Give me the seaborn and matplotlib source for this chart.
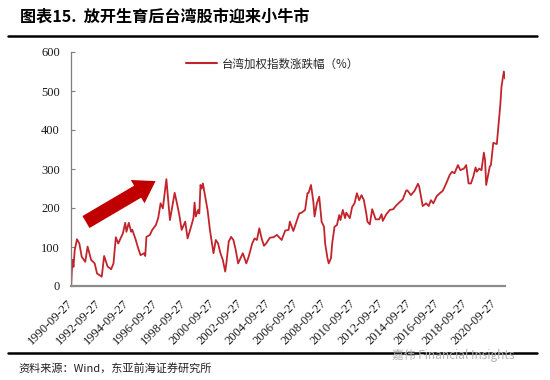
import matplotlib
matplotlib.use("Agg")
import matplotlib.pyplot as plt
import matplotlib.dates as mdates
from matplotlib.patches import FancyArrowPatch
from matplotlib.lines import Line2D
import pandas as pd
import seaborn as sns

# 台湾加权指数累计涨跌幅（%），自 1990-09-27 起
months = [
    "1990-10", "1990-11", "1990-12", "1991-01", "1991-03", "1991-05", "1991-07", "1991-10",
    "1991-12", "1992-03", "1992-06", "1992-08", "1992-12", "1993-02", "1993-05", "1993-08",
    "1993-10", "1993-12", "1994-02", "1994-04", "1994-06", "1994-08", "1994-09", "1994-11",
    "1995-01", "1995-02", "1995-05", "1995-07", "1995-09", "1995-12", "1996-01", "1996-02",
    "1996-05", "1996-07", "1996-10", "1996-12", "1997-02", "1997-04", "1997-07", "1997-08",
    "1997-10", "1997-12", "1998-02", "1998-04", "1998-06", "1998-08", "1998-11", "1999-01",
    "1999-04", "1999-06", "1999-07", "1999-08", "1999-10", "1999-11", "1999-12", "2000-01",
    "2000-02", "2000-04", "2000-06", "2000-08", "2000-11", "2001-01", "2001-03", "2001-05",
    "2001-07", "2001-09", "2001-10", "2001-12", "2002-02", "2002-04", "2002-06", "2002-08",
    "2002-10", "2002-12", "2003-03", "2003-05", "2003-08", "2003-10", "2003-12", "2004-02",
    "2004-04", "2004-06", "2004-08", "2004-11", "2005-02", "2005-05", "2005-09", "2005-12",
    "2006-03", "2006-04", "2006-07", "2006-12", "2007-02", "2007-05", "2007-07", "2007-08",
    "2007-10", "2007-12", "2008-01", "2008-03", "2008-05", "2008-07", "2008-09", "2008-10",
    "2008-12", "2009-01", "2009-03", "2009-04", "2009-06", "2009-08", "2009-10", "2009-11",
    "2010-01", "2010-03", "2010-04", "2010-07", "2010-09", "2010-11", "2011-01", "2011-03",
    "2011-05", "2011-07", "2011-09", "2011-10", "2011-12", "2012-02", "2012-05", "2012-08",
    "2012-10", "2012-11", "2013-02", "2013-05", "2013-08", "2013-10", "2014-01", "2014-04",
    "2014-07", "2014-08", "2014-11", "2015-02", "2015-05", "2015-06", "2015-09", "2015-12",
    "2016-02", "2016-04", "2016-06", "2016-09", "2016-12", "2017-02", "2017-05", "2017-08",
    "2017-10", "2017-12", "2018-03", "2018-05", "2018-08", "2018-10", "2018-12", "2019-02",
    "2019-04", "2019-06", "2019-07", "2019-09", "2019-11", "2020-01", "2020-02", "2020-03",
    "2020-06", "2020-07", "2020-09", "2020-12", "2021-02", "2021-03", "2021-04", "2021-06",
    "2021-07",
]
values = [
    0, 67, 49, 92, 120, 109, 75, 62,
    101, 67, 58, 32, 24, 77, 50, 43,
    58, 125, 109, 122, 135, 162, 139, 162,
    139, 144, 118, 97, 79, 84, 77, 126,
    131, 144, 156, 174, 212, 199, 274, 238,
    169, 203, 239, 212, 182, 144, 165, 122,
    152, 174, 214, 178, 195, 186, 259, 250,
    263, 229, 195, 144, 84, 118, 109, 84,
    67, 37, 58, 114, 126, 118, 92, 58,
    71, 84, 58, 75, 109, 122, 118, 148,
    122, 103, 110, 124, 125, 131, 118, 142,
    144, 165, 141, 186, 188, 195, 238, 239,
    259, 216, 178, 212, 229, 165, 152, 109,
    71, 58, 71, 109, 152, 156, 182, 169,
    195, 174, 188, 174, 203, 212, 238, 220,
    233, 220, 186, 165, 158, 197, 171, 171,
    184, 167, 184, 195, 197, 205, 214, 222,
    245, 245, 233, 244, 262, 255, 205, 212,
    205, 220, 212, 231, 239, 244, 263, 285,
    293, 289, 310, 297, 301, 310, 263, 263,
    280, 304, 293, 301, 297, 342, 323, 259,
    306, 310, 367, 364, 434, 464, 511, 550,
    532,
]
tick_labels = [f"{y}-09-27" for y in range(1990, 2021, 2)]
series_label = "台湾加权指数涨跌幅（%）"
title = "图表15.  放开生育后台湾股市迎来小牛市"
source = "资料来源：Wind，东亚前海证券研究所"
watermark = "嘉伟 Financial Insights"

RED = "#C3242C"
W, H = 550, 380

df = pd.DataFrame({"date": pd.to_datetime(months, format="%Y-%m"), "value": values})

sns.set_theme(style="white")
cjk = ["Noto Sans CJK SC", "DejaVu Sans"]
serif = ["Liberation Serif", "DejaVu Serif"]
plt.rcParams["font.family"] = cjk

fig = plt.figure(figsize=(W / 100, H / 100), dpi=100)
ax = fig.add_axes([71 / W, 1 - 286 / H, (505 - 71) / W, (286 - 52) / H])
sns.lineplot(data=df, x="date", y="value", ax=ax, color=RED, linewidth=1.3)

ax.set_xlim(pd.Timestamp("1990-09-27"), df["date"].iloc[-1])
ax.set_ylim(0, 600)
ax.set_yticks(range(0, 601, 100))
ax.set_xticks(pd.to_datetime(tick_labels))
ax.set_xticklabels(tick_labels, rotation=45, ha="right", va="center",
                   rotation_mode="anchor", family=serif, fontsize=9, color="#1a1a1a")
for lab in ax.get_yticklabels():
    lab.set_family(serif)
    lab.set_fontsize(9)
    lab.set_color("#1a1a1a")
ax.set_xlabel("")
ax.set_ylabel("")
ax.tick_params(axis="y", direction="in", length=3, width=0.8, color="#808080", pad=8, left=True)
ax.tick_params(axis="x", length=0, pad=11)

for side in ["top", "right"]:
    ax.spines[side].set_visible(False)
ax.spines["left"].set_color("#7f7f7f")
ax.spines["left"].set_linewidth(0.9)
ax.spines["bottom"].set_color("#8c8c8c")
ax.spines["bottom"].set_linewidth(1.6)

# 上涨箭头
arrow = FancyArrowPatch(
    (mdates.date2num(pd.Timestamp("1991-10-20")), 164),
    (mdates.date2num(pd.Timestamp("1996-09-25")), 269),
    arrowstyle="simple,head_length=1.5,head_width=1.95,tail_width=1.0",
    mutation_scale=10, color="#C00000", shrinkA=0, shrinkB=0, lw=0,
)
ax.add_patch(arrow)

handle = Line2D([], [], color=RED, linewidth=1.5)
fig.legend([handle], [series_label], loc="center left",
           bbox_to_anchor=(186 / W, 1 - 64 / H), frameon=False, borderpad=0,
           borderaxespad=0, handlelength=2.7, handletextpad=0.4,
           prop={"family": cjk, "size": 8.3})

fig.text(20 / W, 1 - 17 / H, title, fontsize=11.6, fontweight="bold",
         ha="left", va="center", color="#000000")
fig.add_artist(Line2D([8 / W, 537 / W], [1 - 36 / H] * 2, color="black", linewidth=1.8))
fig.add_artist(Line2D([8 / W, 537 / W], [1 - 353 / H] * 2, color="black", linewidth=1.8))
fig.text(18 / W, 1 - 368 / H, source, fontsize=8, ha="left", va="center", color="#222222")
fig.text(392 / W, 1 - 355 / H, watermark, fontsize=8.5, ha="left", va="center",
         color="#b4b4b4")

fig.savefig("out.png", dpi=100)
plt.close(fig)
